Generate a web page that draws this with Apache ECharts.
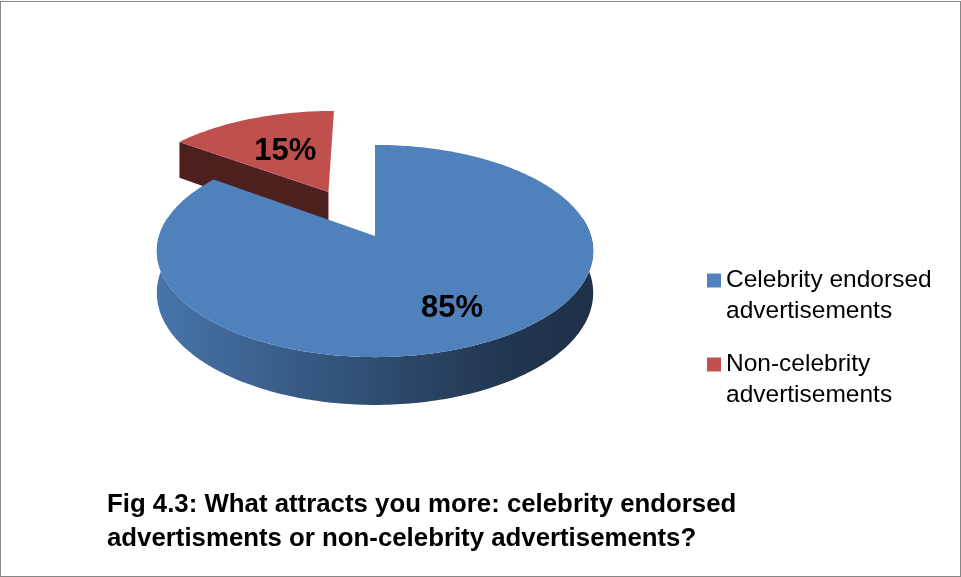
<!DOCTYPE html>
<html>
<head>
<meta charset="utf-8">
<script src="https://cdn.jsdelivr.net/npm/echarts@6/dist/echarts.min.js"></script>
<style>
  html, body { margin: 0; padding: 0; background: #fff; }
  #main { position: absolute; left: 0; top: 0; width: 961px; height: 577px; }
  #frame { position: absolute; left: 0; top: 1px; width: 961px; height: 576px;
           border: 1px solid #868686; box-sizing: border-box; pointer-events: none; }
</style>
</head>
<body>
<div id="main"></div>
<div id="frame"></div>
<script>
// ---- data ----
const categories = ['Celebrity endorsed advertisements', 'Non-celebrity advertisements'];
const shares = [85, 15];
const titleLines = [
  'Fig 4.3: What attracts you more: celebrity endorsed',
  'advertisments or non-celebrity advertisements?'
];

// ---- styling ----
const sliceColors = ['#4f81bd', '#c0504d'];
const explode = [0, 0.505];          // outward pull of each slice, in radii
const labelRadius = [0.715, 0.53];   // where each percentage sits, in radii
const legendTops = [234, 318];

// tilted-disc projection (perspective: far side slightly smaller)
const CX = 375, CY = 236, RX = 216, RY = 104, PERSP = 0.1415, DEPTH = 41;
// only the front part of the rim can be seen
const RIM_FROM = 80, RIM_TO = 280;

const total = shares.reduce((a, b) => a + b, 0);
const starts = [];
{ let acc = 0; shares.forEach(v => { starts.push(acc / total * 360); acc += v; }); }

function project(u, v, h) {
  const w = 1 + PERSP * v;
  return [CX + RX * u / w, CY - RY * v / w + h * DEPTH / w];
}

function shade(hex, k) {
  const n = parseInt(hex.slice(1), 16);
  const r = Math.round(((n >> 16) & 255) * k);
  const g = Math.round(((n >> 8) & 255) * k);
  const b = Math.round((n & 255) * k);
  return 'rgb(' + r + ',' + g + ',' + b + ')';
}

function arc(rim, from, to, h) {
  const n = Math.max(2, Math.ceil(to - from));
  const pts = [];
  for (let k = 0; k <= n; k++) pts.push(rim(from + (to - from) * k / n, h));
  return pts;
}

function sliceRenderer(i) {
  return function (params, api) {
    const value = api.value(0);
    const a0 = starts[i];
    const a1 = a0 + value / total * 360;
    const mid = (a0 + a1) / 2 * Math.PI / 180;
    const ou = explode[i] * Math.sin(mid);
    const ov = explode[i] * Math.cos(mid);
    const rim = (a, h) => {
      const t = a * Math.PI / 180;
      return project(ou + Math.sin(t), ov + Math.cos(t), h);
    };
    const apexTop = project(ou, ov, 0);
    const apexBot = project(ou, ov, 1);
    const base = api.visual('color');
    const children = [];

    // outer wall, front part only
    const w0 = Math.max(a0, RIM_FROM), w1 = Math.min(a1, RIM_TO);
    if (w1 > w0) {
      const top = arc(rim, w0, w1, 0);
      const bot = arc(rim, w0, w1, 1);
      children.push({
        type: 'polygon',
        shape: { points: top.concat(bot.reverse()) },
        style: {
          fill: new echarts.graphic.LinearGradient(0, 0, 1, 0, [
            { offset: 0, color: shade(base, 0.9) },
            { offset: 0.5, color: shade(base, 0.6) },
            { offset: 0.8, color: shade(base, 0.42) },
            { offset: 1, color: shade(base, 0.38) }
          ])
        }
      });
    }

    // cut faces that turn towards the viewer
    [[a0, -90], [a1, 90]].forEach(([a, turn]) => {
      const nrm = (a + turn) * Math.PI / 180;
      if (Math.cos(nrm) < -0.01) {
        children.push({
          type: 'polygon',
          shape: { points: [apexTop, rim(a, 0), rim(a, 1), apexBot] },
          style: { fill: shade(base, 0.4) }
        });
      }
    });

    // top face
    children.push({
      type: 'polygon',
      shape: { points: [apexTop].concat(arc(rim, a0, a1, 0)) },
      style: { fill: base }
    });

    // percentage label
    const lr = labelRadius[i];
    const lp = project(ou + lr * Math.sin(mid), ov + lr * Math.cos(mid), 0);
    children.push({
      type: 'text',
      z2: 10,
      style: {
        text: Math.round(value / total * 100) + '%',
        x: lp[0], y: lp[1],
        align: 'center', verticalAlign: 'middle',
        font: 'bold 31px "Liberation Sans"',
        fill: '#000'
      }
    });

    return { type: 'group', children };
  };
}

const chart = echarts.init(document.getElementById('main'), null, { renderer: 'canvas' });

chart.setOption({
  animation: false,
  backgroundColor: '#fff',
  title: {
    text: titleLines.join('\n'),
    left: 107,
    top: 488,
    padding: 0,
    textStyle: {
      fontFamily: 'Liberation Sans',
      fontSize: 25.8,
      fontWeight: 'bold',
      lineHeight: 34,
      color: '#000'
    }
  },
  legend: categories.map((name, i) => ({
    data: [name],
    orient: 'vertical',
    left: 707,
    top: legendTops[i],
    padding: 0,
    icon: 'rect',
    itemWidth: 14,
    itemHeight: 14,
    itemGap: 0,
    selectedMode: false,
    // leading empty line keeps the marker beside the first line of the name
    formatter: n => '\n' + n,
    textStyle: {
      fontFamily: 'Liberation Sans',
      fontSize: 24.5,
      lineHeight: 31,
      color: '#000',
      width: 228,
      overflow: 'break'
    }
  })),
  series: categories.map((name, i) => ({
    type: 'custom',
    name: name,
    coordinateSystem: 'none',
    z: 3 - i,
    itemStyle: { color: sliceColors[i] },
    renderItem: sliceRenderer(i),
    data: [{ name: name, value: shares[i] }]
  }))
});
</script>
</body>
</html>
